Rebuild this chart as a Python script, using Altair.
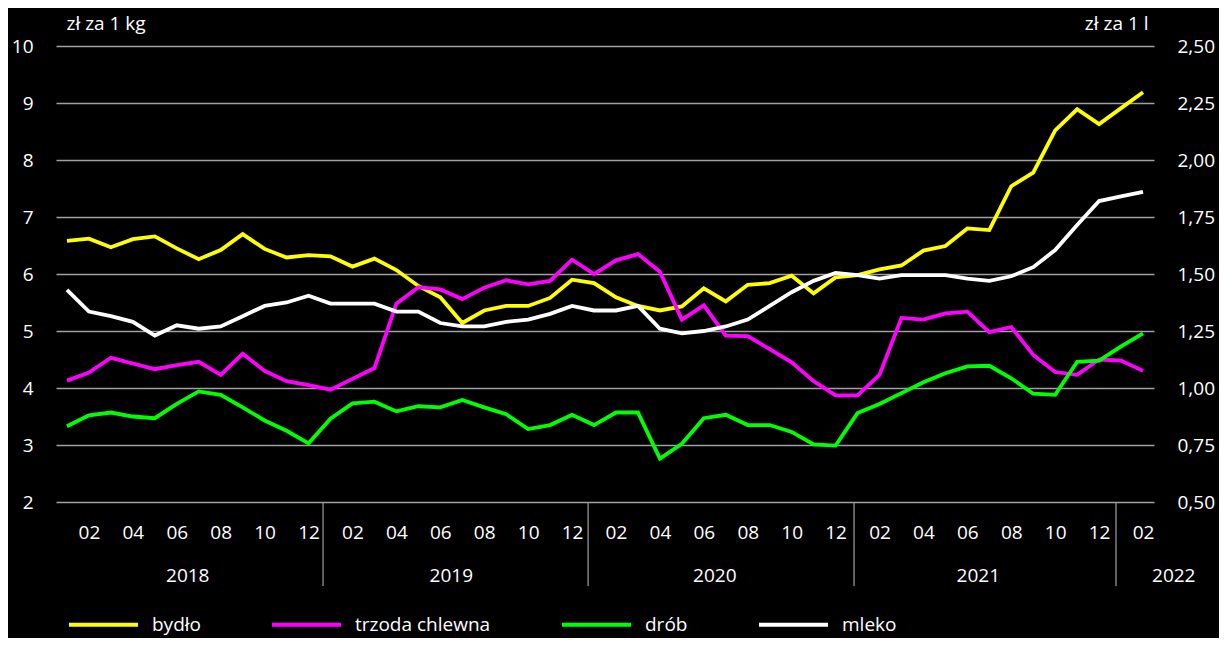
import altair as alt
import pandas as pd

# Jan 2018 .. Feb 2022, monthly index 0..49
months = list(range(50))

bydlo = [6.58, 6.62, 6.47, 6.61, 6.66, 6.45, 6.26, 6.42, 6.70, 6.44, 6.29, 6.33,
         6.31, 6.13, 6.27, 6.07, 5.79, 5.59, 5.14, 5.36, 5.44, 5.44, 5.58, 5.90,
         5.84, 5.59, 5.44, 5.36, 5.43, 5.75, 5.52, 5.81, 5.84, 5.97, 5.66, 5.94,
         5.98, 6.08, 6.15, 6.41, 6.49, 6.80, 6.77, 7.54, 7.78, 8.52, 8.89, 8.63,
         8.91, 9.19]
trzoda = [4.13, 4.27, 4.53, 4.43, 4.33, 4.40, 4.46, 4.23, 4.60, 4.30, 4.12, 4.05,
          3.97, 4.16, 4.35, 5.48, 5.77, 5.73, 5.56, 5.76, 5.89, 5.82, 5.88, 6.25,
          6.00, 6.24, 6.35, 6.04, 5.20, 5.45, 4.92, 4.91, 4.68, 4.45, 4.12, 3.87,
          3.87, 4.23, 5.23, 5.20, 5.31, 5.34, 4.98, 5.07, 4.58, 4.28, 4.23, 4.50,
          4.48, 4.30]
drob = [3.33, 3.52, 3.57, 3.50, 3.47, 3.72, 3.94, 3.88, 3.66, 3.43, 3.25, 3.03,
        3.46, 3.73, 3.76, 3.59, 3.68, 3.66, 3.79, 3.66, 3.54, 3.28, 3.35, 3.53,
        3.35, 3.57, 3.57, 2.76, 3.02, 3.47, 3.53, 3.35, 3.35, 3.23, 3.01, 2.99,
        3.56, 3.72, 3.91, 4.10, 4.26, 4.38, 4.39, 4.17, 3.90, 3.88, 4.46, 4.48,
        4.73, 4.96]
mleko = [1.43, 1.335, 1.315, 1.29, 1.23, 1.275, 1.26, 1.27, 1.315, 1.36, 1.375, 1.405,
         1.37, 1.37, 1.37, 1.335, 1.335, 1.285, 1.27, 1.27, 1.29, 1.30, 1.325, 1.36,
         1.34, 1.34, 1.36, 1.26, 1.24, 1.25, 1.27, 1.30, 1.36, 1.42, 1.47, 1.505,
         1.495, 1.48, 1.495, 1.495, 1.495, 1.48, 1.47, 1.49, 1.53, 1.605, 1.715, 1.82,
         1.84, 1.86]

series_names = ["bydło", "trzoda chlewna", "drób", "mleko"]
series_colors = ["#FFFF00", "#FF00FF", "#00FF00", "#FFFFFF"]

year_labels = ["2018", "2019", "2020", "2021", "2022"]
year_pos = [5.5, 17.5, 29.5, 41.5, 50.4]
separator_pos = [11.66, 23.73, 35.84, 47.77]
tick_months = list(range(1, 50, 2))

FONT = "Open Sans"
GRID = "#A0A0A0"

kg_rows = []
for name, vals in zip(series_names[:3], [bydlo, trzoda, drob]):
    for m, v in zip(months, vals):
        kg_rows.append({"m": m, "v": v, "series": name})
kg_df = pd.DataFrame(kg_rows)
milk_df = pd.DataFrame({"m": months, "v": mleko, "series": "mleko"})
years_df = pd.DataFrame({"pos": year_pos, "label": year_labels})
sep_df = pd.DataFrame({"pos": separator_pos})

x_scale = alt.Scale(domain=[-0.5, 49.5], nice=False, zero=False)
x_enc = alt.X(
    "m:Q", scale=x_scale,
    axis=alt.Axis(values=tick_months, grid=False, domain=False, ticks=False, tickSize=0,
                  labelPadding=30, labelBaseline="middle", labelFlush=False,
                  labelExpr="((datum.value % 12) + 1 < 10 ? '0' : '') + ((datum.value % 12) + 1)",
                  title=None),
)

color_enc = alt.Color(
    "series:N",
    scale=alt.Scale(domain=series_names, range=series_colors),
    legend=alt.Legend(title=None, orient="none", direction="horizontal",
                      legendX=11, legendY=542, symbolType="stroke",
                      symbolSize=4761, symbolStrokeWidth=4, labelOffset=12,
                      columnPadding=63, labelFontSize=19, labelFont=FONT,
                      labelColor="#FFFFFF", labelLimit=400),
    sort=series_names,
)

kg_lines = alt.Chart(kg_df).mark_line(strokeWidth=3.8).encode(
    x=x_enc,
    y=alt.Y("v:Q", scale=alt.Scale(domain=[2, 10], nice=False, zero=False),
            axis=alt.Axis(orient="left", values=list(range(2, 11)), grid=True,
                          gridColor=GRID, gridWidth=1.5, domain=False, ticks=False,
                          tickSize=0, labelPadding=23,
                          title="zł za 1 kg", titleAngle=0, titleX=10, titleY=-23,
                          titleAlign="left", titleBaseline="middle")),
    color=color_enc,
    detail="series:N",
)

milk_line = alt.Chart(milk_df).mark_line(strokeWidth=3.8).encode(
    x=x_enc,
    y=alt.Y("v:Q", scale=alt.Scale(domain=[0.5, 2.5], nice=False, zero=False),
            axis=alt.Axis(orient="right", values=[0.5, 0.75, 1.0, 1.25, 1.5, 1.75, 2.0, 2.25, 2.5],
                          grid=False, domain=False, ticks=False, tickSize=0,
                          labelPadding=23,
                          labelExpr="replace(format(datum.value, '.2f'), '.', ',')",
                          title="zł za 1 l", titleAngle=0, titleX=-6, titleY=-23,
                          titleAlign="right", titleBaseline="middle")),
    color=color_enc,
)

separators = alt.Chart(sep_df).mark_rule(color=GRID, strokeWidth=1.2).encode(
    x=alt.X("pos:Q", scale=x_scale),
    y=alt.value(456),
    y2=alt.value(540),
)

years = alt.Chart(years_df).mark_text(
    font=FONT, fontSize=19, color="#FFFFFF", baseline="middle", align="center"
).encode(
    x=alt.X("pos:Q", scale=x_scale),
    y=alt.value(530),
    text="label:N",
)

chart = alt.layer(kg_lines, milk_line, separators, years).resolve_scale(
    y="independent"
).properties(
    width=1098,
    height=456,
    background="#000000",
    padding={"left": 48, "top": 38, "right": 65, "bottom": 136},
    autosize=alt.AutoSizeParams(type="none"),
).configure_view(
    stroke=None
).configure_axis(
    labelFont=FONT, labelFontSize=19, labelColor="#FFFFFF",
    titleFont=FONT, titleFontSize=19, titleColor="#FFFFFF", titleFontWeight="normal",
)

chart.save("out.html", embed_options={"renderer": "svg", "actions": False})
